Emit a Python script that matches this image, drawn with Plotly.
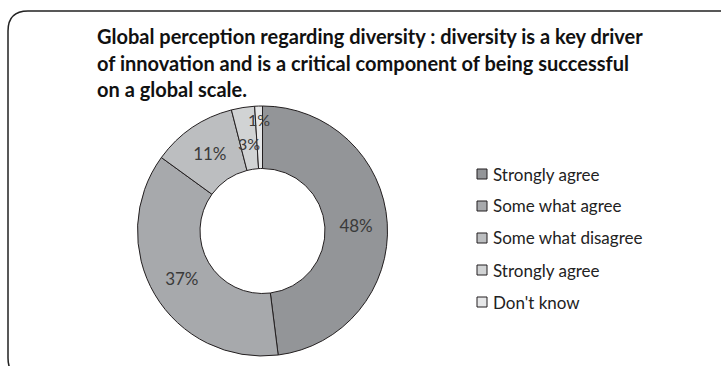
import math
import plotly.graph_objects as go

W, H = 721, 366

title_lines = [
    "Global perception regarding diversity : diversity is a key driver",
    "of innovation and is a critical component of being successful",
    "on a global scale.",
]
categories = ["Strongly agree", "Some what agree", "Some what disagree", "Strongly agree", "Don't know"]
values = [48, 37, 11, 3, 1]
colors = ["#939598", "#a7a9ac", "#bcbec0", "#d1d3d4", "#e6e7e8"]

def px(x):
    return x / W

def py(y):
    return 1 - y / H

# pie geometry (pixels)
pie_x0, pie_x1, pie_y0, pie_y1 = 137, 388, 106, 356
cx, cy = (pie_x0 + pie_x1) / 2, (pie_y0 + pie_y1) / 2
R = (pie_y1 - pie_y0) / 2
total = sum(values)
small = [v / total < 0.05 for v in values]
label_r = {3: 0.71, 4: 0.89}

fig = go.Figure()
fig.add_trace(go.Pie(
    labels=[f"{c} ({i})" for i, c in enumerate(categories)],
    values=values,
    hole=0.5,
    sort=False,
    direction="clockwise",
    rotation=0,
    marker=dict(colors=colors, line=dict(color="#231f20", width=1)),
    texttemplate=["" if s else "%{percent:.0%}" for s in small],
    textposition="inside",
    insidetextorientation="horizontal",
    textfont=dict(family="Lato", size=17, color="#3a3a3a"),
    domain=dict(x=[px(pie_x0), px(pie_x1)], y=[py(pie_y1), py(pie_y0)]),
    showlegend=False,
    hoverinfo="label+percent",
))

annotations = []
for i, line in enumerate(title_lines):
    annotations.append(dict(
        text=f"<b>{line}</b>", x=px(95), y=py(36 + 26.5 * i),
        xref="paper", yref="paper", xanchor="left", yanchor="middle",
        showarrow=False, font=dict(family="Lato", size=20, color="#111111"),
    ))

# labels for the thin slices, placed from their mid-angles
cum = 0
for i, v in enumerate(values):
    mid = (cum + v / 2) / total * 2 * math.pi
    cum += v
    if small[i]:
        rr = R * label_r.get(i, 0.75)
        annotations.append(dict(
            text=f"{round(100 * v / total)}%",
            x=px(cx + rr * math.sin(mid)), y=py(cy - rr * math.cos(mid)),
            xref="paper", yref="paper", xanchor="center", yanchor="middle",
            showarrow=False, font=dict(family="Lato", size=16, color="#3a3a3a"),
        ))

shapes = []
# rounded frame
x0, y0, x1, y1, r = 8, 11, 742, 378, 20
path = (f"M {px(x0)} {py(y0 + r)} Q {px(x0)} {py(y0)} {px(x0 + r)} {py(y0)} "
        f"L {px(x1 - r)} {py(y0)} Q {px(x1)} {py(y0)} {px(x1)} {py(y0 + r)} "
        f"L {px(x1)} {py(y1 - r)} Q {px(x1)} {py(y1)} {px(x1 - r)} {py(y1)} "
        f"L {px(x0 + r)} {py(y1)} Q {px(x0)} {py(y1)} {px(x0)} {py(y1 - r)} Z")
shapes.append(dict(type="path", path=path, xref="paper", yref="paper",
                   line=dict(color="#222222", width=1.5)))

# manual legend
for i, (c, col) in enumerate(zip(categories, colors)):
    yc = 174 + 32 * i
    shapes.append(dict(type="rect", xref="paper", yref="paper",
                       x0=px(477), x1=px(487), y0=py(yc + 5), y1=py(yc - 5),
                       fillcolor=col, line=dict(color="#231f20", width=1)))
    annotations.append(dict(
        text=c, x=px(491), y=py(yc), xref="paper", yref="paper",
        xanchor="left", yanchor="middle", showarrow=False,
        font=dict(family="Lato", size=17, color="#222222"),
    ))

fig.update_layout(
    width=W, height=H,
    margin=dict(l=0, r=0, t=0, b=0),
    paper_bgcolor="white",
    plot_bgcolor="white",
    annotations=annotations,
    shapes=shapes,
    uniformtext=dict(minsize=17, mode="show"),
)

fig.write_html("out.html")
